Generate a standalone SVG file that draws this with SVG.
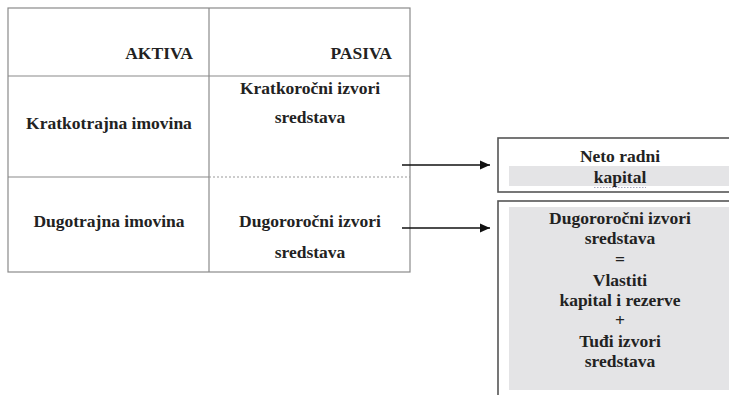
<svg xmlns="http://www.w3.org/2000/svg" width="729" height="395" viewBox="0 0 729 395">
<style>
  .t{font-family:"Liberation Serif","Times New Roman",serif;font-weight:bold;font-size:17.5px;fill:#222}
  .c{text-anchor:middle}
  .r{text-anchor:end}
  .grid{stroke:#8a8a8a;stroke-width:1.2;fill:none}
  .box{stroke:#555;stroke-width:1.6;fill:none}
  .fill{fill:#e4e4e6}
  .arr{stroke:#111;stroke-width:1.3;fill:none}
</style>
<defs>
  <marker id="ah" markerWidth="11" markerHeight="10" refX="10" refY="5" orient="auto" markerUnits="userSpaceOnUse">
    <path d="M0,0.5 L10,5 L0,9.5 Z" fill="#111"/>
  </marker>
</defs>
<rect width="729" height="395" fill="#fff"/>
<g id="table">
  <rect class="grid" x="8" y="8" width="402" height="264"/>
  <line class="grid" x1="209" y1="8" x2="209" y2="272"/>
  <line class="grid" x1="8" y1="76" x2="410" y2="76"/>
  <line class="grid" x1="8" y1="177" x2="209" y2="177"/>
  <line x1="209" y1="177" x2="410" y2="177" stroke="#999" stroke-width="1.2" stroke-dasharray="2,2"/>
  <text class="t r" x="193" y="59">AKTIVA</text>
  <text class="t r" x="392" y="59">PASIVA</text>
  <text class="t c" x="109" y="129">Kratkotrajna imovina</text>
  <text class="t c" x="310" y="94">Kratkoročni izvori</text>
  <text class="t c" x="310" y="123">sredstava</text>
  <text class="t c" x="109" y="227">Dugotrajna imovina</text>
  <text class="t c" x="310" y="227">Dugororočni izvori</text>
  <text class="t c" x="310" y="258">sredstava</text>
</g>
<g id="connectors">
  <line class="arr" x1="402" y1="165" x2="490" y2="165" marker-end="url(#ah)"/>
  <line class="arr" x1="402" y1="228" x2="490" y2="228" marker-end="url(#ah)"/>
</g>
<g id="neto">
  <rect class="fill" x="509" y="166" width="225" height="20"/>
  <rect class="box" x="498" y="138" width="240" height="54"/>
  <text class="t c" x="620" y="162">Neto radni</text>
  <text class="t c" x="620" y="183">kapital</text>
  <line x1="594" y1="187.5" x2="646" y2="187.5" stroke="#a9a9c0" stroke-width="1" stroke-dasharray="1.5,1.5"/>
</g>
<g id="dugorocni">
  <rect class="fill" x="509" y="207" width="225" height="183"/>
  <rect class="box" x="498" y="201" width="240" height="200"/>
  <text class="t c" x="620" y="224">Dugororočni izvori</text>
  <text class="t c" x="620" y="244.4">sredstava</text>
  <text class="t c" x="620" y="264.8">=</text>
  <text class="t c" x="620" y="286">Vlastiti</text>
  <text class="t c" x="620" y="306">kapital i rezerve</text>
  <text class="t c" x="620" y="326">+</text>
  <text class="t c" x="620" y="346.5">Tuđi izvori</text>
  <text class="t c" x="620" y="366.5">sredstava</text>
</g>
</svg>
